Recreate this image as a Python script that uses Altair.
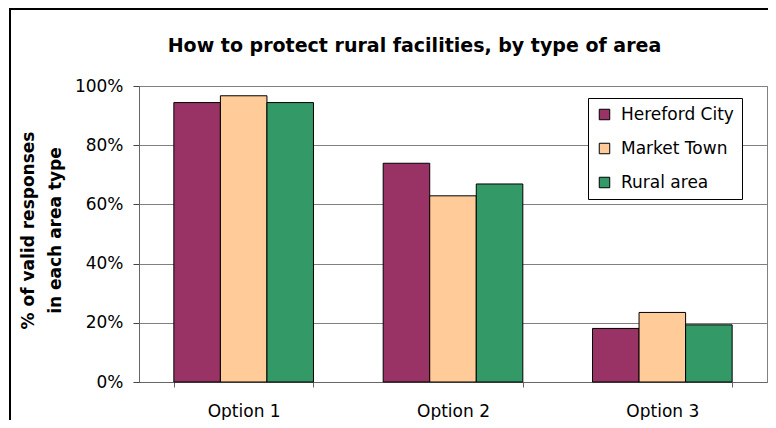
import altair as alt
import pandas as pd

categories = ["Option 1", "Option 2", "Option 3"]
series = ["Hereford City", "Market Town", "Rural area"]
hereford = [0.944, 0.739, 0.181]
market = [0.967, 0.629, 0.235]
rural = [0.944, 0.669, 0.193]
colors = ["#993366", "#FFCC99", "#339966"]
y_ticks = [0, 0.2, 0.4, 0.6, 0.8, 1.0]
title_text = "How to protect rural facilities, by type of area"
y_title = ["% of valid responses", "in each area type"]

rows = []
for name, vals in zip(series, [hereford, market, rural]):
    for c, v in zip(categories, vals):
        rows.append({"option": c, "area": name, "value": v})
df = pd.DataFrame(rows)

W, H = 628, 296
PL, PT = 131, 78

bars = alt.Chart(df).mark_bar(stroke="black", strokeWidth=1).encode(
    x=alt.X("option:N", sort=categories,
            scale=alt.Scale(paddingInner=0.333, paddingOuter=0.1665),
            axis=alt.Axis(title=None, labelAngle=0, labelFontSize=17, labelColor="black",
                          tickBand="extent", tickSize=5, tickColor="#666666",
                          domainColor="#666666", labelPadding=16, grid=False)),
    xOffset=alt.XOffset("area:N", sort=series, scale=alt.Scale(paddingInner=0, paddingOuter=0)),
    y=alt.Y("value:Q", scale=alt.Scale(domain=[0, 1], nice=False),
            axis=alt.Axis(values=y_ticks, format=".0%", title=y_title,
                          titleFontSize=17, titleFontWeight="bold", titleColor="black",
                          titleAngle=270, titleAlign="center", titleBaseline="middle",
                          titleX=-111, titleY=144, titleLineHeight=27,
                          labelFontSize=17, labelColor="black", labelPadding=10,
                          tickSize=6, tickColor="#444444", domainColor="#666666",
                          grid=True, gridColor="#808080", gridWidth=1)),
    color=alt.Color("area:N", sort=series,
                    scale=alt.Scale(domain=series, range=colors),
                    legend=alt.Legend(title=None, orient="none", legendX=449, legendY=12,
                                      symbolType="square", symbolSize=110,
                                      symbolStrokeColor="black", symbolStrokeWidth=1,
                                      labelFontSize=17, labelColor="black", labelOffset=8,
                                      rowPadding=16, padding=8, fillColor="white",
                                      strokeColor="black")),
)

title = alt.Chart(alt.Data(values=[{}])).mark_text(
    text=title_text, fontSize=19, fontWeight="bold", font="DejaVu Sans",
    align="center", baseline="alphabetic", color="black"
).encode(x=alt.value(406.5 - PL), y=alt.value(44 - PT))

frame = alt.Chart(alt.Data(values=[{}])).mark_rect(
    fill=None, fillOpacity=0, stroke="black", strokeWidth=2
).encode(x=alt.value(2 - PL), x2=alt.value(W + 200), y=alt.value(1 - PT), y2=alt.value(H + 200))

chart = alt.layer(frame, bars, title).properties(
    width=W, height=H,
    autosize=alt.AutoSizeParams(type="none"),
    padding={"left": PL, "top": PT, "right": 1, "bottom": 38},
).configure(font="DejaVu Sans").configure_view(stroke="#808080", strokeWidth=1)

chart.save("out.html", embed_options={"renderer": "svg", "actions": False})
